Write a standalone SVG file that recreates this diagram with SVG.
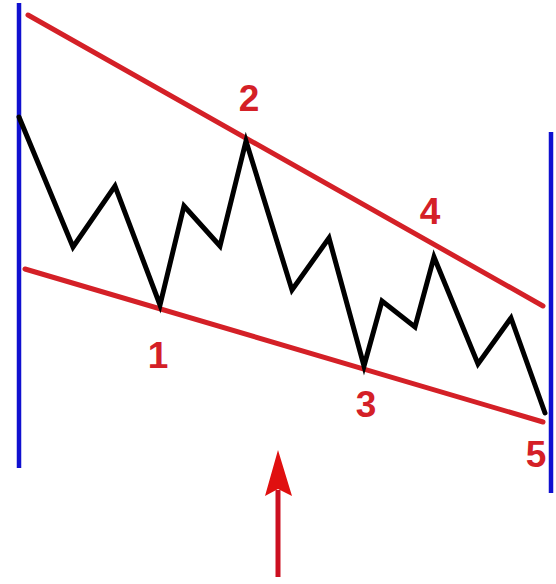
<svg xmlns="http://www.w3.org/2000/svg" width="556" height="584" viewBox="0 0 556 584">
<style>
.blue{stroke:#1010d0;stroke-width:4.5;fill:none}
.trend{stroke:#d42027;stroke-width:5;fill:none;stroke-linecap:round}
.price{stroke:#000;stroke-width:5;fill:none;stroke-linejoin:miter;stroke-linecap:round}
.lbl{font-family:"Liberation Sans",Arial,sans-serif;font-weight:bold;font-size:37px;fill:#d42027;text-anchor:middle}
</style>
<rect width="556" height="584" fill="#fff"/>
<g id="boundaries">
<line class="blue" x1="19" y1="3" x2="19" y2="468"/>
<line class="blue" x1="551" y1="132" x2="551" y2="493"/>
</g>
<g id="trendlines">
<line class="trend" x1="28" y1="15" x2="543" y2="306"/>
<line class="trend" x1="25" y1="269" x2="543" y2="422"/>
</g>
<g id="price">
<polyline class="price" points="19,117 73,247 115,186 160,305 184,206 220,246 246,141 292,290 329,238 364,366 382,301 415,327 434,257 478,364 511,318 545,413"/>
</g>
<g id="labels">
<text class="lbl" x="158" y="368">1</text>
<text class="lbl" x="249" y="111">2</text>
<text class="lbl" x="366" y="417">3</text>
<text class="lbl" x="430" y="224">4</text>
<text class="lbl" x="536" y="467">5</text>
</g>
<g id="arrow">
<line x1="278" y1="577" x2="278" y2="490" stroke="#cc1020" stroke-width="5"/>
<polygon points="278,450 292,496 278,489 265,496" fill="#e01010"/>
</g>
</svg>
